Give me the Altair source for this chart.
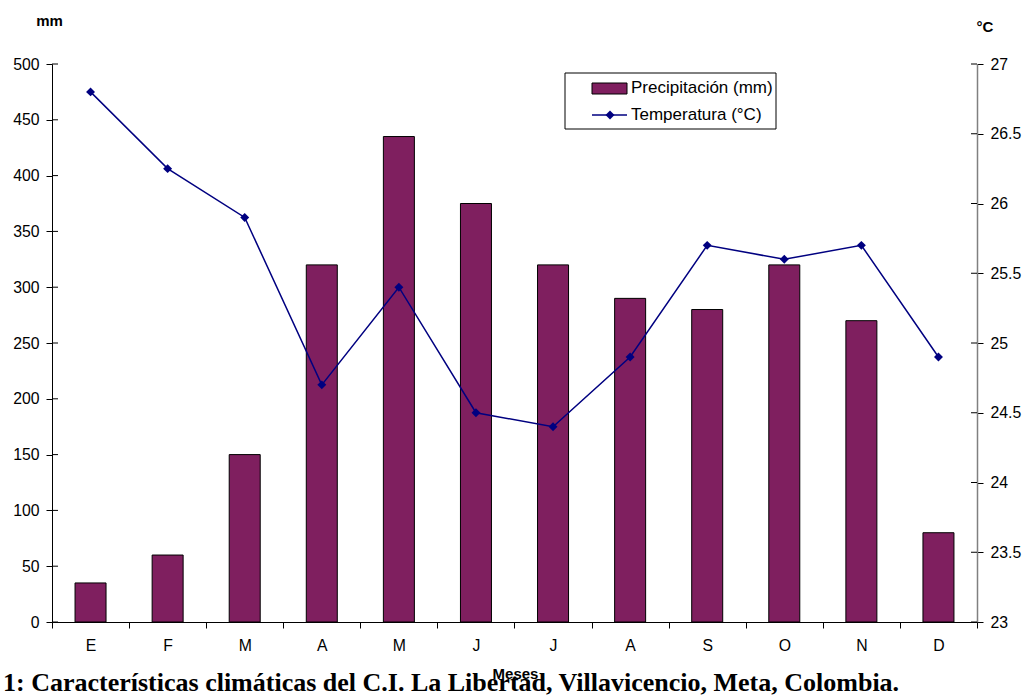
import json

import altair as alt
import pandas as pd

# Monthly climate data, C.I. La Libertad (Villavicencio, Meta)
meses = ["E", "F", "M", "A", "M", "J", "J", "A", "S", "O", "N", "D"]
precipitacion = [35, 60, 150, 320, 435, 375, 320, 290, 280, 320, 270, 80]
temperatura = [26.8, 26.25, 25.9, 24.7, 25.4, 24.5, 24.4, 24.9, 25.7, 25.6, 25.7, 24.9]

ticks_mm = [0, 50, 100, 150, 200, 250, 300, 350, 400, 450, 500]
ticks_c = [23, 23.5, 24, 24.5, 25, 25.5, 26, 26.5, 27]

titulo = "1: Características climáticas del C.I. La Libertad, Villavicencio, Meta, Colombia."

BAR = "#7f1f5f"
LINE = "#000080"
SANS = "Liberation Sans"
W, H = 925, 558
LBL = 15.8

df = pd.DataFrame({
    "k": list(range(len(meses))),
    "precip": precipitacion,
    "temp": temperatura,
})

label_expr = json.dumps(meses) + "[datum.value]"

x_enc = alt.X(
    "k:O",
    scale=alt.Scale(paddingInner=0, paddingOuter=0),
    axis=alt.Axis(
        title="Meses", titleFont=SANS, titleFontSize=15, titleFontWeight="bold",
        titleX=463, titleY=51, titleAlign="center", titleBaseline="middle",
        labelExpr=label_expr, labelAngle=0, labelFont=SANS, labelFontSize=LBL,
        labelColor="black", labelPadding=10,
        tickBand="extent", tickSize=6, tickColor="black", domainColor="black",
        zindex=1,
    ),
)

one = alt.Data(values=[{}])

bars = alt.Chart(df).mark_bar(size=31, color=BAR, stroke="black", strokeWidth=1).encode(
    x=x_enc,
    y=alt.Y(
        "precip:Q",
        scale=alt.Scale(domain=[0, 500], nice=False),
        axis=alt.Axis(
            values=ticks_mm, format="d", title="mm", titleAngle=0,
            titleFont=SANS, titleFontSize=15, titleFontWeight="bold",
            titleX=-3, titleY=-44, titleAlign="center", titleBaseline="middle",
            labelFont=SANS, labelFontSize=LBL, labelColor="black", labelPadding=7,
            tickSize=6, tickColor="black", domainColor="black",
        ),
    ),
)

# inner half of the crossing ticks on the left axis
left_in = alt.Chart(pd.DataFrame({"v": ticks_mm})).mark_rule(color="black").encode(
    y=alt.Y("v:Q"), x=alt.value(0), x2=alt.value(6)
)

# legend
leg_box = alt.Chart(one).mark_rect(fill="white", stroke="black", strokeWidth=1).encode(
    x=alt.value(513), x2=alt.value(724), y=alt.value(9), y2=alt.value(65)
)
leg_sw = alt.Chart(one).mark_rect(fill=BAR, stroke="black", strokeWidth=1).encode(
    x=alt.value(540), x2=alt.value(575), y=alt.value(19), y2=alt.value(30)
)
leg_t1 = alt.Chart(one).mark_text(
    text="Precipitación (mm)", align="left", baseline="middle", font=SANS, fontSize=17
).encode(x=alt.value(579), y=alt.value(24))
leg_ln = alt.Chart(one).mark_rule(color=LINE, strokeWidth=1.5).encode(
    x=alt.value(540), x2=alt.value(575), y=alt.value(51)
)
leg_pt = alt.Chart(one).mark_point(
    shape="diamond", filled=True, size=80, color=LINE, opacity=1
).encode(x=alt.value(558), y=alt.value(51))
leg_t2 = alt.Chart(one).mark_text(
    text="Temperatura (°C)", align="left", baseline="middle", font=SANS, fontSize=17
).encode(x=alt.value(579), y=alt.value(51))

caption = alt.Chart(one).mark_text(
    text=titulo, align="left", baseline="alphabetic",
    font="Liberation Serif", fontWeight="bold", fontSize=26,
).encode(x=alt.value(-49), y=alt.value(627))

left = alt.layer(bars, left_in, leg_box, leg_sw, leg_t1, leg_ln, leg_pt, leg_t2, caption)

y_temp = alt.Y(
    "temp:Q",
    scale=alt.Scale(domain=[23, 27], nice=False, zero=False),
    axis=alt.Axis(
        orient="right", values=ticks_c, format="~g", title="°C", titleAngle=0,
        titleFont=SANS, titleFontSize=15, titleFontWeight="bold",
        titleX=7.5, titleY=-38, titleAlign="center", titleBaseline="middle",
        labelFont=SANS, labelFontSize=LBL, labelColor="black", labelPadding=7,
        tickSize=6, tickColor="black", domainColor="#808080", domainWidth=1.5,
    ),
)

line = alt.Chart(df).mark_line(color=LINE, strokeWidth=1.5).encode(x=alt.X("k:O"), y=y_temp)
pts = alt.Chart(df).mark_point(
    shape="diamond", filled=True, size=80, color=LINE, opacity=1
).encode(x=alt.X("k:O"), y=alt.Y("temp:Q"))

right_in = alt.Chart(pd.DataFrame({"v": ticks_c})).mark_rule(color="black").encode(
    y=alt.Y("v:Q"), x=alt.value(W - 6), x2=alt.value(W)
)

right = alt.layer(line, pts, right_in)

chart = (
    alt.layer(left, right)
    .resolve_scale(y="independent")
    .properties(
        width=W,
        height=H,
        autosize=alt.AutoSizeParams(type="none"),
        padding={"left": 52, "top": 64, "right": 47, "bottom": 76},
        background="white",
    )
    .configure_view(stroke=None)
    .configure_axis(grid=False)
)

chart.save("out.html", embed_options={"renderer": "svg", "actions": False})
